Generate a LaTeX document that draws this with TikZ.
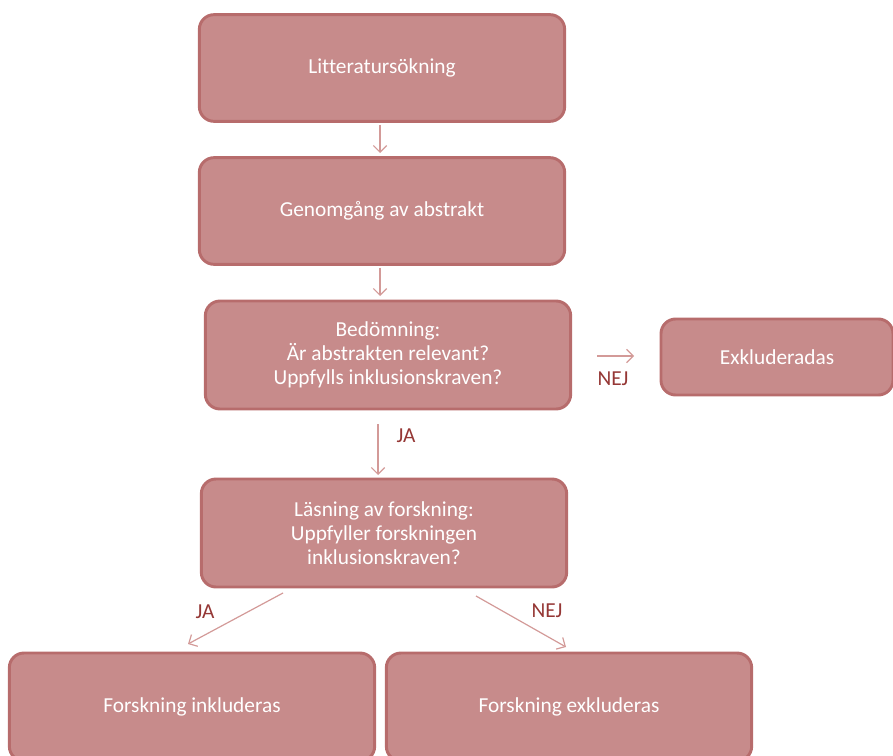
\documentclass[tikz,border=0pt]{standalone}
\usepackage{fontspec}
\setmainfont[Ligatures={NoCommon}]{Carlito}
\usetikzlibrary{arrows.meta}
\definecolor{boxfill}{HTML}{C78B8B}
\definecolor{boxline}{HTML}{B76C6C}
\definecolor{arrowc}{HTML}{D39A98}
\definecolor{labelc}{HTML}{953735}
\tikzset{
  stagebox/.style={draw=boxline, line width=2.2pt, fill=boxfill, rounded corners=11pt,
    text=white, align=center, font=\fontsize{16}{18}\selectfont, inner sep=0pt},
  flow/.style={draw=arrowc, line width=0.9pt, -{Straight Barb[length=5pt,width=10pt,line width=0.9pt]}},
  lbl/.style={text=labelc, font=\fontsize{16}{18}\selectfont, inner sep=0pt}
}
\begin{document}
\begin{tikzpicture}[x=0.75pt,y=-0.75pt]
\useasboundingbox (0,0) rectangle (893,756);
\node[stagebox, minimum width=274pt, minimum height=80pt] (lit) at (382,68) {Litteratursökning};
\node[stagebox, minimum width=274pt, minimum height=80pt] (gen) at (382,211) {Genomgång av abstrakt};
\node[stagebox, minimum width=274pt, minimum height=81pt] (bed) at (388,355) {Bedömning:\\Är abstrakten relevant?\\Uppfylls inklusionskraven?};
\node[stagebox, minimum width=174pt, minimum height=57pt] (exk) at (777,357) {Exkluderadas};
\node[stagebox, minimum width=274pt, minimum height=81pt] (las) at (384,533) {Läsning av forskning:\\Uppfyller forskningen\\inklusionskraven?};
\node[stagebox, minimum width=274pt, minimum height=81pt] (fin) at (192,707) {Forskning inkluderas};
\node[stagebox, minimum width=274pt, minimum height=81pt] (fex) at (569,707) {Forskning exkluderas};

\coordinate (a1s) at (380,125); \coordinate (a1e) at (380,153);
\coordinate (a2s) at (380,268); \coordinate (a2e) at (380,296);
\coordinate (a3s) at (378,424); \coordinate (a3e) at (378,475);
\coordinate (a4s) at (597,356); \coordinate (a4e) at (634,356);
\coordinate (a5s) at (283,593); \coordinate (a5e) at (188,644);
\coordinate (a6s) at (476,596); \coordinate (a6e) at (566,647);
\draw[flow] (a1s) -- (a1e);
\draw[flow] (a2s) -- (a2e);
\draw[flow] (a3s) -- (a3e);
\draw[flow] (a4s) -- (a4e);
\draw[flow] (a5s) -- (a5e);
\draw[flow] (a6s) -- (a6e);
\node[lbl] (ja1) at (406,436) {JA};
\node[lbl] (nej1) at (613,379) {NEJ};
\node[lbl] (ja2) at (205,612) {JA};
\node[lbl] (nej2) at (547,611) {NEJ};
\end{tikzpicture}
\end{document}
